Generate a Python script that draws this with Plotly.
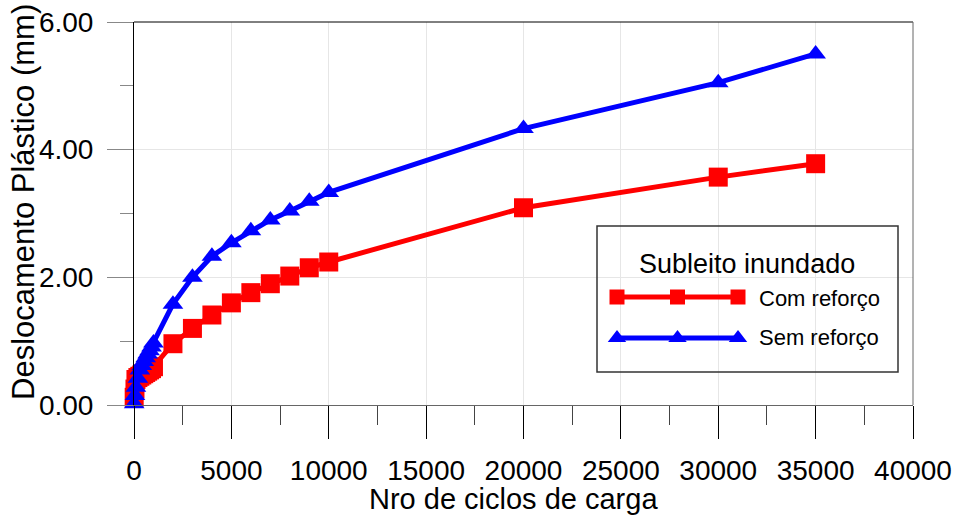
import plotly.graph_objects as go

# Load cycles (N) and plastic displacement (mm)
ciclos = [10, 50, 100, 200, 300, 400, 500, 600, 700, 800, 900, 1000,
          2000, 3000, 4000, 5000, 6000, 7000, 8000, 9000, 10000,
          20000, 30000, 35000]
com_reforco = [0.12, 0.25, 0.40, 0.43, 0.45, 0.47, 0.49, 0.51, 0.53, 0.55, 0.57, 0.60,
               0.96, 1.20, 1.41, 1.60, 1.76, 1.90, 2.02, 2.15, 2.24,
               3.09, 3.57, 3.78]
sem_reforco = [0.02, 0.15, 0.28, 0.42, 0.55, 0.62, 0.68, 0.74, 0.80, 0.85, 0.91, 0.97,
               1.58, 2.00, 2.33, 2.54, 2.73, 2.90, 3.04, 3.19, 3.33,
               4.33, 5.05, 5.50]

x_ticks = [0, 5000, 10000, 15000, 20000, 25000, 30000, 35000, 40000]
y_ticks = [0, 2, 4, 6]

legend_title = "Subleito inundado"
serie_nomes = ["Com reforço", "Sem reforço"]
x_title = "Nro de ciclos de carga"
y_title = "Deslocamento Plástico (mm)"

RED = "#ff0000"
BLUE = "#0000ff"
FONT = "Liberation Sans, Arial, sans-serif"

W, H = 958, 515
ML, MR, MT, MB = 134, 45, 22, 110
PW, PH = W - ML - MR, H - MT - MB


def px(xp):
    return (xp - ML) / PW


def py(yp):
    return (H - MB - yp) / PH


fig = go.Figure()

fig.add_trace(go.Scatter(
    x=ciclos, y=com_reforco, mode="lines+markers", name=serie_nomes[0],
    line=dict(color=RED, width=5),
    marker=dict(symbol="square", size=19, color=RED),
    cliponaxis=False, showlegend=False,
))
fig.add_trace(go.Scatter(
    x=ciclos, y=sem_reforco, mode="lines+markers", name=serie_nomes[1],
    line=dict(color=BLUE, width=5),
    marker=dict(symbol="triangle-up", size=18, color=BLUE),
    cliponaxis=False, showlegend=False,
))

# Hand-drawn legend on a pixel-scaled overlay
sample_x = [617, 677.5, 738]
fig.add_trace(go.Scatter(
    x=sample_x, y=[297] * 3, xaxis="x2", yaxis="y2", mode="lines+markers",
    line=dict(color=RED, width=5),
    marker=dict(symbol="square", size=15, color=RED),
    showlegend=False, hoverinfo="skip", cliponaxis=False,
))
fig.add_trace(go.Scatter(
    x=sample_x, y=[338] * 3, xaxis="x2", yaxis="y2", mode="lines+markers",
    line=dict(color=BLUE, width=5),
    marker=dict(symbol="triangle-up", size=16, color=BLUE),
    showlegend=False, hoverinfo="skip", cliponaxis=False,
))

annotations = [
    dict(text=legend_title, x=px(747), y=py(264), xref="paper", yref="paper",
         xanchor="center", yanchor="middle", showarrow=False,
         font=dict(family=FONT, size=27, color="black")),
    dict(text=serie_nomes[0], x=px(757), y=py(298), xref="paper", yref="paper",
         xanchor="left", yanchor="middle", showarrow=False,
         font=dict(family=FONT, size=22, color="black")),
    dict(text=serie_nomes[1], x=px(757), y=py(337), xref="paper", yref="paper",
         xanchor="left", yanchor="middle", showarrow=False,
         font=dict(family=FONT, size=22, color="black")),
    dict(text=x_title, x=px(513), y=py(499), xref="paper", yref="paper",
         xanchor="center", yanchor="middle", showarrow=False,
         font=dict(family=FONT, size=29, color="black")),
    dict(text=y_title, x=px(23), y=py(202), xref="paper", yref="paper",
         xanchor="center", yanchor="middle", showarrow=False, textangle=-90,
         font=dict(family=FONT, size=31, color="black")),
]

shapes = [
    # legend frame
    dict(type="rect", xref="paper", yref="paper", x0=px(597), x1=px(898),
         y0=py(372), y1=py(226),
         line=dict(color="#333333", width=1.5), fillcolor="rgba(0,0,0,0)"),
    # top and right plot borders
    dict(type="line", xref="paper", yref="paper", x0=0, x1=1, y0=1, y1=1,
         line=dict(color="black", width=1)),
    dict(type="line", xref="paper", yref="paper", x0=1, x1=1, y0=0, y1=1,
         line=dict(color="#666666", width=1)),
]

fig.update_layout(
    width=W, height=H, autosize=False,
    margin=dict(l=ML, r=MR, t=MT, b=MB, pad=0, autoexpand=False),
    paper_bgcolor="white", plot_bgcolor="white",
    font=dict(family=FONT, size=28, color="black"),
    showlegend=False,
    annotations=annotations,
    shapes=shapes,
    xaxis=dict(
        range=[0, 40000], tickmode="array", tickvals=x_ticks,
        ticktext=[str(v) for v in x_ticks], automargin=False,
        ticks="outside", ticklen=33, tickwidth=1, tickcolor="black",
        ticklabelstandoff=7,
        showline=True, linecolor="#666666", linewidth=1,
        showgrid=True, gridcolor="#e6e6e6", gridwidth=1, zeroline=False,
        minor=dict(dtick=2500, ticks="outside", ticklen=19, tickcolor="#444444",
                   tickwidth=1, showgrid=False),
        tickfont=dict(family=FONT, size=28, color="black"),
    ),
    yaxis=dict(
        range=[0, 6], tickmode="array", tickvals=y_ticks,
        ticktext=[f"{v:.2f}" for v in y_ticks], automargin=False,
        ticks="outside", ticklen=26, tickwidth=1, tickcolor="#888888",
        ticklabelstandoff=8,
        showline=True, linecolor="black", linewidth=1,
        showgrid=True, gridcolor="#e6e6e6", gridwidth=1, zeroline=False,
        minor=dict(dtick=1, ticks="outside", ticklen=13, tickcolor="#888888",
                   tickwidth=1, showgrid=False),
        tickfont=dict(family=FONT, size=28, color="black"),
    ),
    xaxis2=dict(overlaying="x", range=[ML, W - MR], visible=False,
                showgrid=False, zeroline=False, fixedrange=True, automargin=False),
    yaxis2=dict(overlaying="y", range=[H - MB, MT], visible=False,
                showgrid=False, zeroline=False, fixedrange=True, automargin=False),
)

fig.write_html("out.html")
